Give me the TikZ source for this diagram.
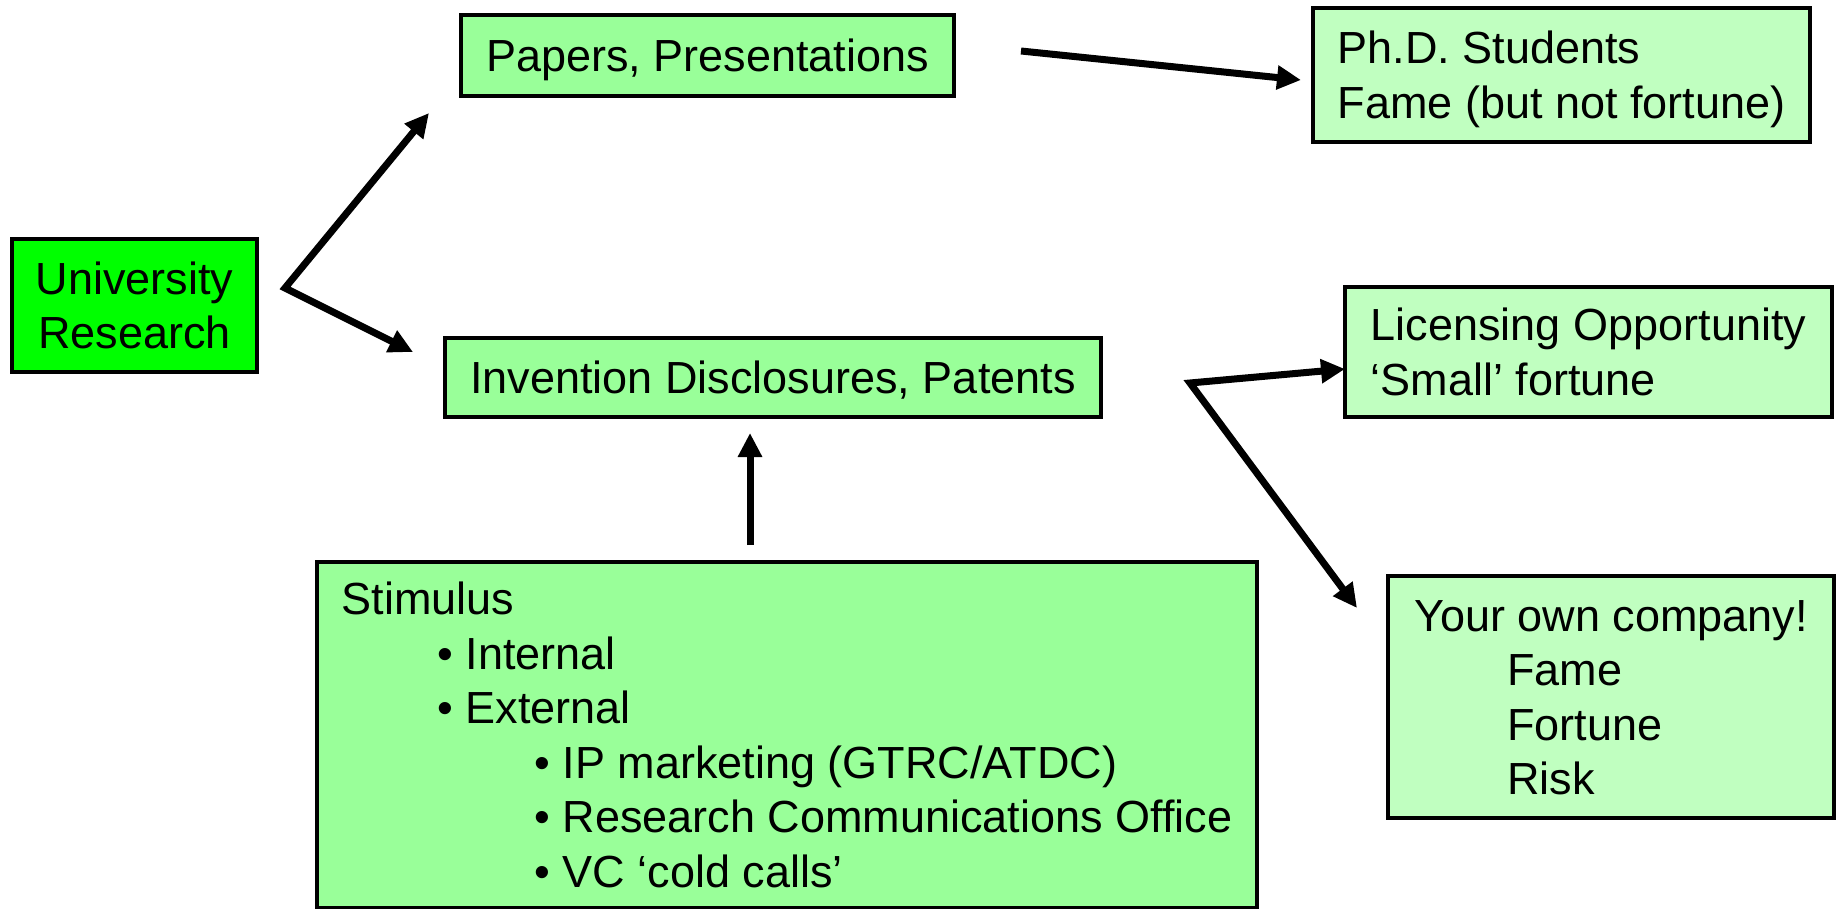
\documentclass[tikz,border=0pt]{standalone}
\usepackage{fontspec}
\setmainfont{Liberation Sans}
\usetikzlibrary{arrows.meta}
\definecolor{brightgreen}{HTML}{00FF00}
\definecolor{midgreen}{HTML}{99FF99}
\definecolor{palegreen}{HTML}{C0FFC0}
\newcommand{\bstrut}{\rule[-11.35pt]{0pt}{54.5pt}}
\tikzset{>={Triangle[length=24pt,width=23pt]}}
\tikzset{
  box/.style={draw, line width=3.5pt, inner sep=0pt, font=\fontsize{45pt}{54.5pt}\selectfont},
  midbox/.style={box, align=center, fill=midgreen},
  palebox/.style={box, align=left, fill=palegreen},
  link/.style={line width=7pt}
}

\begin{document}
\begin{tikzpicture}[x=1pt, y=-1pt]
    \useasboundingbox (0,0) rectangle (1843,909);
    \node[box, align=center, fill=brightgreen, minimum width=245pt, minimum height=133pt] (U) at (134.5,305.5) {\bstrut University\\Research\bstrut};
    \node[midbox, minimum width=493pt, minimum height=81pt] (P) at (707.5,55.5) {\bstrut Papers, Presentations};
    \node[midbox, minimum width=656pt, minimum height=79pt] (I) at (773,377.5) {\bstrut Invention Disclosures, Patents};
    \node[palebox, minimum width=497pt, minimum height=134pt] (D) at (1561.5,75) {\bstrut Ph.D. Students\\Fame (but not fortune)\bstrut};
    \node[palebox, minimum width=487pt, minimum height=130pt] (L) at (1588.5,352) {\bstrut Licensing Opportunity\\‘Small’ fortune\bstrut};
    \node[palebox, minimum width=446pt, minimum height=242pt] (C) at (1611,697) {\bstrut Your own company!\\\hspace*{93pt}Fame\\\hspace*{93pt}Fortune\\\hspace*{93pt}Risk\bstrut};
    \node[midbox, align=left, minimum width=940pt, minimum height=346pt] (S) at (787,735) {\bstrut Stimulus\\
      \hspace*{96pt}• Internal\\
      \hspace*{96pt}• External\\
      \hspace*{193pt}• IP marketing (GTRC/ATDC)\\
      \hspace*{193pt}• Research Communications Office\\
      \hspace*{193pt}• VC ‘cold calls’\bstrut};
    \coordinate (Ur) at (285,288);
    \coordinate (Pin) at (429,113);
    \coordinate (Iin) at (413,352);
    \coordinate (Pout) at (1021,51);
    \coordinate (Din) at (1301,80);
    \coordinate (Sout) at (750,545);
    \coordinate (Ib) at (750,433);
    \coordinate (Ir) at (1190,383);
    \coordinate (Lin) at (1345,369);
    \coordinate (Cin) at (1357,608);
    \draw[link, <->] (Pin) -- (Ur) -- (Iin);
    \draw[link, ->] (Pout) -- (Din);
    \draw[link, ->] (Sout) -- (Ib);
    \draw[link, <->] (Lin) -- (Ir) -- (Cin);
\end{tikzpicture}
\end{document}
